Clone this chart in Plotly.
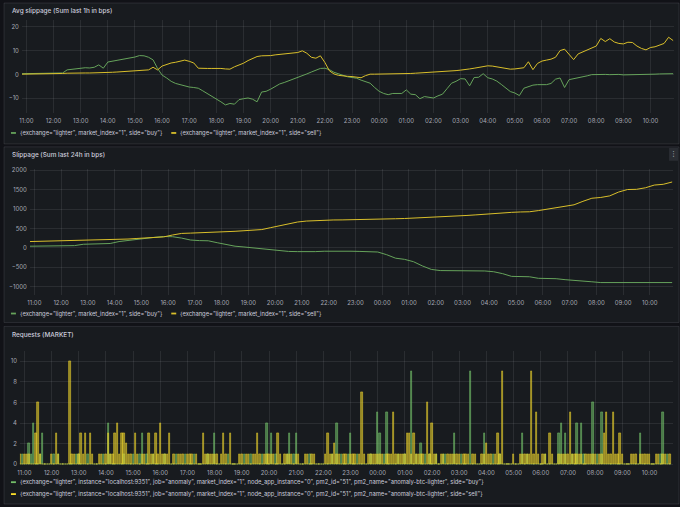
import pandas as pd
import plotly.graph_objects as go

# time window shown on every panel
t_start = "2025-06-10 10:50"
t_end = "2025-06-11 10:52"

titles = ["Avg slippage (Sum last 1h in bps)",
          "Slippage (Sum last 24h in bps)",
          "Requests (MARKET)"]

series_names = ['{exchange="lighter", market_index="1", side="buy"}',
                '{exchange="lighter", market_index="1", side="sell"}']

request_names = ['{exchange="lighter", instance="localhost:9351", job="anomaly", market_index="1", '
                 'node_app_instance="0", pm2_id="51", pm2_name="anomaly-btc-lighter", side="buy"}',
                 '{exchange="lighter", instance="localhost:9351", job="anomaly", market_index="1", '
                 'node_app_instance="0", pm2_id="51", pm2_name="anomaly-btc-lighter", side="sell"}']

# avg slippage, one value every 10 min from 10:50 (one row per hour)
avg_buy = [0.3, 0.3, 0.3, 0.4, 0.4, 0.4,
           0.5, 0.5, 0.5, 0.6, 1.9, 2.2,
           2.5, 2.6, 2.8, 2.7, 3.0, 4.0,
           2.6, 5.2, 5.5, 6.0, 6.2, 6.4,
           7.0, 7.3, 7.9, 7.8, 7.2, 6.1,
           2.5, -0.3, -1.5, -2.9, -3.8, -4.4,
           -5.0, -5.3, -5.5, -5.8, -6.9, -8.0,
           -9.2, -10.5, -11.5, -12.8, -12.2, -12.5,
           -10.6, -10.2, -9.9, -10.4, -11.5, -7.4,
           -7.1, -6.2, -5.0, -4.0, -3.4, -2.7,
           -2.2, -1.5, -0.8, 0.2, 1.0, 1.9,
           2.5, 2.6, 2.0, 0.9, 0.2, -0.5,
           -1.0, -1.3, -1.6, -2.4, -3.0, -3.7,
           -5.5, -7.1, -8.0, -8.5, -8.0, -8.0,
           -8.0, -6.5, -8.3, -8.5, -10.2, -9.3,
           -9.6, -9.9, -9.0, -8.3, -6.0, -3.7,
           -2.9, -1.8, -1.9, -4.8, -1.3, -1.2,
           0.3, -1.4, -1.9, -2.8, -4.2, -5.8,
           -7.2, -7.8, -8.9, -5.8, -5.2, -4.5,
           -4.3, -4.3, -4.3, -3.8, -2.0, -1.5,
           -5.5, -2.2, -1.8, -1.6, -1.3, -0.6,
           -0.1, 0.0, -0.1, 0.0, -0.1, 0.0,
           0.0, -0.2, -0.2, -0.1, -0.1, 0.0,
           0.1, 0.1, 0.1, 0.2, 0.2, 0.3,
           0.3]
avg_sell = [0.1, 0.1, 0.2, 0.2, 0.2, 0.3,
            0.3, 0.3, 0.3, 0.4, 0.5, 0.6,
            0.6, 0.6, 0.6, 0.6, 0.6, 0.6,
            0.7, 0.8, 0.9, 1.0, 1.1, 1.2,
            1.4, 1.5, 1.6, 1.7, 1.9, 3.0,
            1.9, 3.5, 4.3, 4.8, 5.1, 5.5,
            6.0, 5.5, 4.8, 2.6, 2.4, 2.5,
            2.5, 2.6, 2.5, 2.3, 2.2, 3.2,
            3.8, 4.7, 5.8, 6.8, 7.5, 7.8,
            7.8, 7.9, 8.2, 8.4, 8.6, 8.7,
            8.8, 9.2, 9.9, 8.9, 7.2, 6.8,
            7.8, 5.0, 1.5, 0.2, -0.4, -0.7,
            -0.8, -0.9, -1.2, -1.4, -0.5, 0.1,
            0.1, 0.1, 0.1, 0.2, 0.2, 0.2,
            0.3, 0.3, 0.4, 0.5, 0.6, 0.6,
            0.7, 0.8, 0.9, 1.0, 1.2, 1.4,
            1.6, 1.8, 1.9, 2.3, 2.6, 3.0,
            3.3, 3.6, 3.5, 3.1, 2.7, 2.4,
            2.2, 2.3, 2.4, 2.8, 5.3, 2.0,
            4.6, 5.6, 6.0, 6.4, 7.2, 10.0,
            10.6, 8.2, 6.2, 8.6, 9.4, 10.1,
            10.8, 11.9, 15.1, 13.8, 15.0, 13.6,
            13.0, 12.8, 13.5, 13.4, 11.9, 10.9,
            10.3, 11.3, 11.6, 12.2, 13.0, 15.6,
            14.2]

# 24h slippage, one value every 20 min from 10:50
sum_buy = [40, 40, 45, 45, 50, 55, 90, 100, 105, 110, 160, 190,
           210, 250, 270, 290, 285, 250, 200, 185, 180, 130, 80, 40,
           20, -5, -20, -50, -80, -95, -100, -105, -100, -90, -85, -85,
           -90, -95, -100, -110, -180, -270, -300, -360, -470, -560, -590, -590,
           -590, -595, -595, -600, -620, -670, -740, -745, -750, -790, -795, -800,
           -825, -840, -850, -880, -900, -900, -900, -900, -900, -900, -900, -900,
           -900]
sum_sell = [160, 165, 170, 172, 175, 180, 185, 190, 200, 205, 215, 225,
            240, 250, 270, 280, 330, 370, 378, 385, 395, 405, 415, 425,
            440, 450, 470, 520, 570, 630, 665, 690, 705, 715, 718, 720,
            722, 726, 732, 738, 745, 750, 756, 765, 775, 788, 800, 810,
            822, 835, 850, 870, 885, 900, 915, 925, 930, 960, 1000, 1035,
            1070, 1110, 1200, 1280, 1300, 1340, 1440, 1505, 1510, 1550, 1620, 1640,
            1700]

# market requests per 5 min from 10:50 (one row per hour)
req_buy = [0, 1, 0, 0, 2, 1, 4, 0, 0, 1, 3, 0,
           0, 0, 0, 1, 0, 1, 0, 0, 0, 0, 0, 0,
           0, 1, 1, 0, 0, 0, 1, 0, 0, 0, 0, 0,
           0, 1, 0, 4, 1, 0, 0, 0, 0, 0, 1, 0,
           0, 0, 1, 0, 0, 1, 3, 0, 1, 0, 0, 1,
           0, 0, 0, 0, 1, 0, 0, 0, 0, 1, 0, 0,
           0, 1, 0, 0, 0, 1, 0, 0, 0, 0, 0, 1,
           0, 0, 3, 0, 0, 0, 0, 0, 1, 0, 0, 0,
           0, 0, 0, 1, 0, 0, 1, 0, 0, 0, 0, 1,
           0, 4, 0, 3, 0, 1, 0, 0, 0, 0, 1, 3,
           0, 1, 3, 0, 0, 0, 0, 0, 1, 0, 0, 0,
           0, 0, 0, 0, 0, 0, 1, 0, 4, 0, 1, 0,
           0, 1, 3, 0, 0, 1, 0, 0, 0, 0, 0, 1,
           0, 0, 5, 3, 0, 1, 5, 0, 0, 0, 0, 1,
           0, 0, 1, 0, 0, 9, 0, 1, 0, 2, 0, 1,
           0, 1, 0, 0, 1, 0, 0, 1, 1, 0, 0, 0,
           3, 0, 0, 1, 0, 0, 0, 9, 0, 0, 0, 0,
           0, 3, 0, 0, 0, 1, 0, 0, 1, 0, 0, 0,
           0, 0, 0, 0, 0, 0, 3, 0, 1, 0, 0, 0,
           0, 0, 0, 0, 1, 0, 0, 0, 0, 0, 3, 4,
           0, 3, 0, 0, 1, 0, 4, 0, 4, 1, 0, 0,
           0, 6, 0, 1, 0, 5, 0, 0, 0, 0, 0, 0,
           0, 0, 0, 0, 0, 0, 0, 0, 0, 0, 3, 0,
           0, 0, 0, 0, 0, 0, 0, 1, 5, 0, 1, 0]
req_sell = [1, 0, 1, 1, 1, 0, 0, 3, 6, 1, 0, 0,
            0, 0, 1, 0, 3, 1, 0, 0, 0, 0, 10, 1,
            1, 0, 1, 3, 1, 3, 0, 3, 1, 0, 0, 1,
            1, 0, 1, 3, 1, 1, 3, 4, 1, 3, 3, 2,
            1, 1, 0, 3, 1, 0, 1, 1, 0, 3, 1, 1,
            3, 1, 4, 1, 1, 1, 3, 0, 1, 0, 1, 1,
            1, 0, 1, 1, 1, 0, 1, 0, 0, 3, 1, 1,
            1, 1, 1, 1, 0, 1, 3, 1, 0, 3, 0, 0,
            0, 1, 1, 0, 1, 1, 0, 1, 1, 3, 1, 0,
            1, 1, 1, 1, 1, 0, 3, 1, 0, 1, 1, 1,
            1, 0, 1, 1, 0, 0, 1, 1, 0, 1, 1, 0,
            0, 0, 0, 1, 3, 1, 1, 2, 1, 1, 0, 1,
            1, 0, 1, 1, 1, 0, 1, 7, 1, 0, 1, 1,
            1, 1, 1, 1, 1, 0, 1, 1, 1, 5, 1, 1,
            1, 1, 1, 3, 3, 1, 3, 1, 1, 1, 1, 0,
            6, 1, 4, 1, 1, 0, 1, 1, 0, 1, 1, 1,
            1, 1, 1, 0, 1, 1, 1, 0, 1, 1, 0, 0,
            1, 1, 2, 1, 1, 0, 1, 3, 1, 9, 0, 0,
            0, 0, 1, 0, 0, 1, 1, 1, 1, 1, 9, 1,
            5, 1, 0, 1, 1, 0, 3, 1, 0, 0, 1, 1,
            1, 1, 1, 5, 1, 1, 1, 1, 1, 0, 1, 1,
            1, 1, 1, 0, 1, 1, 3, 5, 1, 1, 5, 1,
            1, 3, 1, 0, 0, 0, 1, 1, 1, 0, 1, 1,
            1, 1, 1, 0, 0, 1, 1, 0, 1, 1, 0, 1]

GREEN = "#66a35b"
YELLOW = "#d9bf2b"
TEXT = "#ccccdc"
GRID = "rgba(204,204,220,0.10)"
FONT = "Inter"

W, H = 680, 507


# pixel -> paper helpers
def px(x):
    return x / W


def py(y):
    return 1 - y / H


avg_t = pd.date_range(t_start, periods=len(avg_buy), freq="10min")
sum_t = pd.date_range(t_start, periods=len(sum_buy), freq="20min")
req_t = pd.date_range(t_start, periods=len(req_buy), freq="5min")

fig = go.Figure()

fig.add_trace(go.Scatter(x=avg_t, y=avg_buy, mode="lines", line=dict(color=GREEN, width=1),
                         name=series_names[0], xaxis="x", yaxis="y", showlegend=False))
fig.add_trace(go.Scatter(x=avg_t, y=avg_sell, mode="lines", line=dict(color=YELLOW, width=1),
                         name=series_names[1], xaxis="x", yaxis="y", showlegend=False))

fig.add_trace(go.Scatter(x=sum_t, y=sum_buy, mode="lines", line=dict(color=GREEN, width=1),
                         name=series_names[0], xaxis="x2", yaxis="y2", showlegend=False))
fig.add_trace(go.Scatter(x=sum_t, y=sum_sell, mode="lines", line=dict(color=YELLOW, width=1),
                         name=series_names[1], xaxis="x2", yaxis="y2", showlegend=False))

# thin overlaid bars: semi-transparent fill with a brighter edge
bar_w = 3 * 60 * 1000
fig.add_trace(go.Bar(x=req_t, y=req_buy, width=bar_w,
                     marker=dict(color="rgba(115,191,105,0.55)",
                                 line=dict(color="rgba(115,191,105,0.9)", width=0.6)),
                     name=request_names[0], xaxis="x3", yaxis="y3", showlegend=False))
fig.add_trace(go.Bar(x=req_t, y=req_sell, width=bar_w,
                     marker=dict(color="rgba(250,222,42,0.55)",
                                 line=dict(color="rgba(230,205,45,0.9)", width=0.6)),
                     name=request_names[1], xaxis="x3", yaxis="y3", showlegend=False))

# panels: (top, bottom) in px, plot area (left, right, top, bottom) in px, y range, y ticks
panels = [
    ((1, 143), (19, 674, 18, 112), [-16.25, 22.9], [-10, 0, 10, 20]),
    ((146, 323), (27, 673, 168, 295), [-1213, 2044], [-1000, -500, 0, 500, 1000, 1500, 2000]),
    ((327, 506), (17, 673, 352, 467), [-0.1, 10.96], [0, 2, 4, 6, 8, 10]),
]

shapes = []
annotations = []
layout_axes = {}
for i, (box, area, yr, yt) in enumerate(panels):
    sfx = "" if i == 0 else str(i + 1)
    shapes.append(dict(type="rect", xref="paper", yref="paper", layer="below",
                       x0=px(1), x1=px(679), y0=py(box[1]), y1=py(box[0]),
                       fillcolor="#181b1f", line=dict(color="rgba(204,204,220,0.12)", width=1)))
    annotations.append(dict(text=titles[i], xref="paper", yref="paper", x=px(7), y=py(box[0] + 8.5),
                            xanchor="left", yanchor="middle", showarrow=False,
                            font=dict(family=FONT, size=6.4, color=TEXT, weight=500)))
    layout_axes["xaxis" + sfx] = dict(
        domain=[px(area[0]), px(area[1])], anchor="y" + sfx, type="date",
        range=[t_start, t_end], tickformat="%H:%M", dtick=3600000, tick0="2025-06-10 11:00",
        showgrid=True, gridcolor=GRID, gridwidth=1, zeroline=False, showline=False,
        ticks="", ticklabelstandoff=3,
        tickfont=dict(family=FONT, size=6, color="rgba(204,204,220,0.8)"))
    layout_axes["yaxis" + sfx] = dict(
        domain=[py(area[3]), py(area[2])], anchor="x" + sfx, range=yr, tickvals=yt,
        showgrid=True, gridcolor=GRID, gridwidth=1, zeroline=False, showline=False,
        ticks="", ticklabelstandoff=2,
        tickfont=dict(family=FONT, size=6, color="rgba(204,204,220,0.8)"))


def legend_item(x, y, color, text):
    shapes.append(dict(type="rect", xref="paper", yref="paper", layer="above",
                       x0=px(x), x1=px(x + 5), y0=py(y + 0.9), y1=py(y - 0.9),
                       fillcolor=color, line_width=0))
    annotations.append(dict(text=text, xref="paper", yref="paper", x=px(x + 7), y=py(y),
                            xanchor="left", yanchor="middle", showarrow=False,
                            font=dict(family=FONT, size=5.8, color=TEXT)))


legend_item(8, 132, GREEN, series_names[0])
legend_item(169, 132, YELLOW, series_names[1])
legend_item(8, 314, GREEN, series_names[0])
legend_item(169, 314, YELLOW, series_names[1])
legend_item(8, 484, "#73bf69", request_names[0])
legend_item(8, 496, "#fade2a", request_names[1])

# panel menu button on the middle panel
shapes.append(dict(type="rect", xref="paper", yref="paper", layer="above",
                   x0=px(669), x1=px(678), y0=py(160), y1=py(147),
                   fillcolor="#2a2d33", line_width=0))
annotations.append(dict(text="⋮", xref="paper", yref="paper", x=px(673.5), y=py(153.5),
                        xanchor="center", yanchor="middle", showarrow=False,
                        font=dict(family="DejaVu Sans", size=7, color=TEXT)))

fig.update_layout(
    width=W, height=H, autosize=False,
    margin=dict(l=0, r=0, t=0, b=0),
    paper_bgcolor="#111217", plot_bgcolor="rgba(0,0,0,0)",
    barmode="overlay", bargap=0,
    font=dict(family=FONT, color=TEXT),
    shapes=shapes, annotations=annotations,
    showlegend=False,
    **layout_axes,
)

# drop the default page margin so the dashboard sits at the window corner
fig.write_html("out.html", config={"displayModeBar": False},
               post_script="document.body.style.margin='0';document.body.style.overflow='hidden';")
